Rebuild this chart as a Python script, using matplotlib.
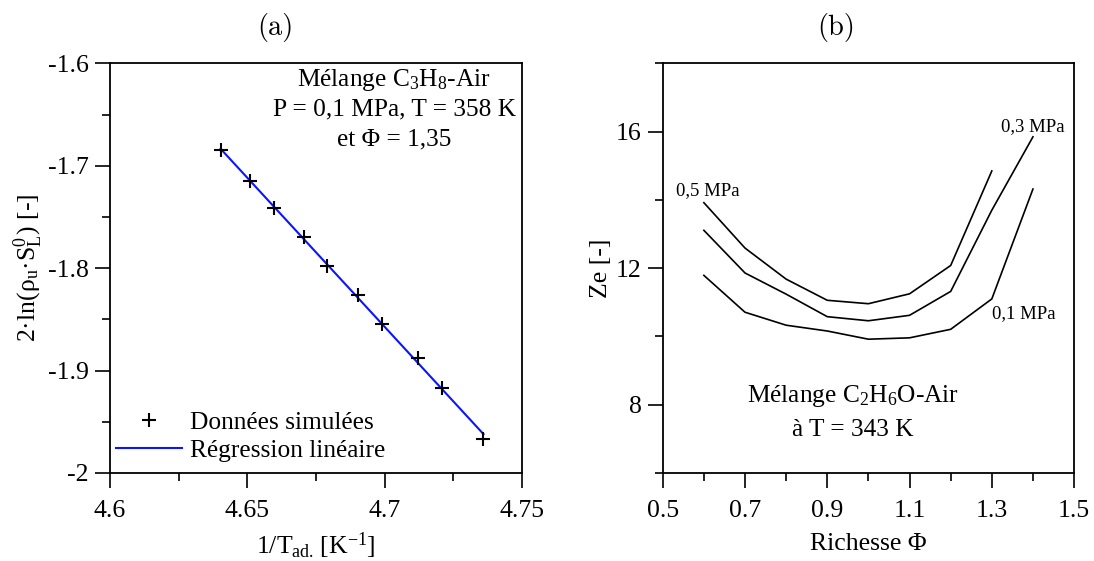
import numpy as np
import matplotlib
matplotlib.use("Agg")
import matplotlib.pyplot as plt
from matplotlib.ticker import MultipleLocator, FixedLocator, FormatStrFormatter

# police type Times
plt.rcParams['font.family'] = ['Liberation Serif', 'DejaVu Serif']
plt.rcParams['mathtext.fontset'] = 'custom'
plt.rcParams['mathtext.rm'] = 'Liberation Serif'
plt.rcParams['mathtext.it'] = 'Liberation Serif:italic'
plt.rcParams['mathtext.default'] = 'regular'
plt.rcParams['axes.unicode_minus'] = False
plt.rcParams['font.size'] = 18.5

# (a) donnees simulees
inv_T_ad = [4.6403, 4.6511, 4.6597, 4.6705, 4.6791, 4.6902, 4.6991, 4.7122, 4.7209, 4.7360]
ln_rho_SL = [-1.685, -1.7147, -1.7416, -1.7693, -1.7976, -1.8266, -1.8546, -1.8880, -1.9174, -1.9670]

# (b) nombre de Zeldovich
phi_short = [0.6, 0.7, 0.8, 0.9, 1.0, 1.1, 1.2, 1.3]
phi_long = [0.6, 0.7, 0.8, 0.9, 1.0, 1.1, 1.2, 1.3, 1.4]
ze_05MPa = [13.92, 12.59, 11.68, 11.06, 10.96, 11.25, 12.08, 14.85]
ze_03MPa = [13.11, 11.86, 11.24, 10.58, 10.46, 10.62, 11.32, 13.70, 15.85]
ze_01MPa = [11.79, 10.71, 10.33, 10.16, 9.92, 9.96, 10.21, 11.10, 14.32]
phi_ticks = [0.5, 0.7, 0.9, 1.1, 1.3, 1.5]


def style_axes(ax):
    for s in ax.spines.values():
        s.set_linewidth(1.3)
    ax.tick_params(which='major', direction='out', length=10.8, width=1.2,
                   top=False, right=False)
    ax.tick_params(which='minor', direction='out', length=5.8, width=1.2,
                   top=False, right=False)
    ax.tick_params(axis='x', which='major', pad=8.5)
    ax.tick_params(axis='y', which='major', pad=4.5)


fig = plt.figure(figsize=(10.94, 5.61), dpi=100)
ax1 = fig.add_axes([0.1005, 0.1569, 0.3766, 0.730])
ax2 = fig.add_axes([0.6058, 0.1569, 0.3760, 0.730])

# --- (a)
coef = np.polyfit(inv_T_ad, ln_rho_SL, 1)
x_fit = np.array([inv_T_ad[0], inv_T_ad[-1]])
ax1.plot(x_fit, np.polyval(coef, x_fit), color='#0a14ff', lw=1.5,
         label='Régression linéaire', zorder=2)
ax1.plot(inv_T_ad, ln_rho_SL, ls='none', marker='+', ms=10, mew=1.5,
         color='black', label='Données simulées', zorder=3)
ax1.set_xlim(4.6, 4.75)
ax1.set_ylim(-2.0, -1.6)
ax1.xaxis.set_major_locator(MultipleLocator(0.05))
ax1.xaxis.set_minor_locator(MultipleLocator(0.025))
ax1.yaxis.set_major_locator(MultipleLocator(0.1))
ax1.yaxis.set_minor_locator(MultipleLocator(0.05))
ax1.xaxis.set_major_formatter(FormatStrFormatter('%g'))
ax1.yaxis.set_major_formatter(FormatStrFormatter('%g'))
style_axes(ax1)
ax1.set_xlabel('1/T$_{ad.}\\,$[K$^{-1}$]', labelpad=6)
ax1.set_ylabel('2·ln(ρ$_u$·S$_L^0$) [-]', labelpad=2)
ax1.text(4.7035, -1.6161, 'Mélange C$_3$H$_8$-Air', ha='center', va='center', fontsize=18.3)
ax1.text(4.7035, -1.6454, 'P = 0,1 MPa, T = 358 K', ha='center', va='center', fontsize=18.3)
ax1.text(4.7035, -1.6747, 'et Φ = 1,35', ha='center', va='center', fontsize=18.3)
h, l = ax1.get_legend_handles_labels()
ax1.legend(h[::-1], l[::-1], loc='lower left', bbox_to_anchor=(0.015, 0.027),
           frameon=False, fontsize=18.3, handlelength=2.6, handletextpad=0.3,
           borderpad=0, borderaxespad=0, labelspacing=0.2)

# --- (b)
ax2.plot(phi_short, ze_05MPa, color='black', lw=1.2)
ax2.plot(phi_long, ze_03MPa, color='black', lw=1.2)
ax2.plot(phi_long, ze_01MPa, color='black', lw=1.2)
ax2.set_xlim(0.5, 1.5)
ax2.set_ylim(6, 18)
ax2.xaxis.set_major_locator(FixedLocator(phi_ticks))
ax2.xaxis.set_minor_locator(MultipleLocator(0.1))
ax2.yaxis.set_major_locator(MultipleLocator(4))
ax2.yaxis.set_minor_locator(MultipleLocator(2))
ax2.xaxis.set_major_formatter(FormatStrFormatter('%g'))
style_axes(ax2)
ax2.set_xlabel('Richesse Φ', labelpad=8)
ax2.set_ylabel('Ze [-]', labelpad=3)
ax2.text(0.609, 14.28, '0,5 MPa', ha='center', va='center', fontsize=13.5)
ax2.text(1.40, 16.16, '0,3 MPa', ha='center', va='center', fontsize=13.5)
ax2.text(1.377, 10.67, '0,1 MPa', ha='center', va='center', fontsize=13.5)
ax2.text(0.962, 8.27, 'Mélange C$_2$H$_6$O-Air', ha='center', va='center', fontsize=18.3)
ax2.text(0.962, 7.25, 'à T = 343 K', ha='center', va='center', fontsize=18.3)

# titres des sous-figures
fig.text(275 / 1094, 1 - 27 / 561, '(a)', ha='center', va='center',
         family='cmr10', fontsize=20.5)
fig.text(836 / 1094, 1 - 27 / 561, '(b)', ha='center', va='center',
         family='cmr10', fontsize=20.5)

fig.savefig('out.png', dpi=100)
